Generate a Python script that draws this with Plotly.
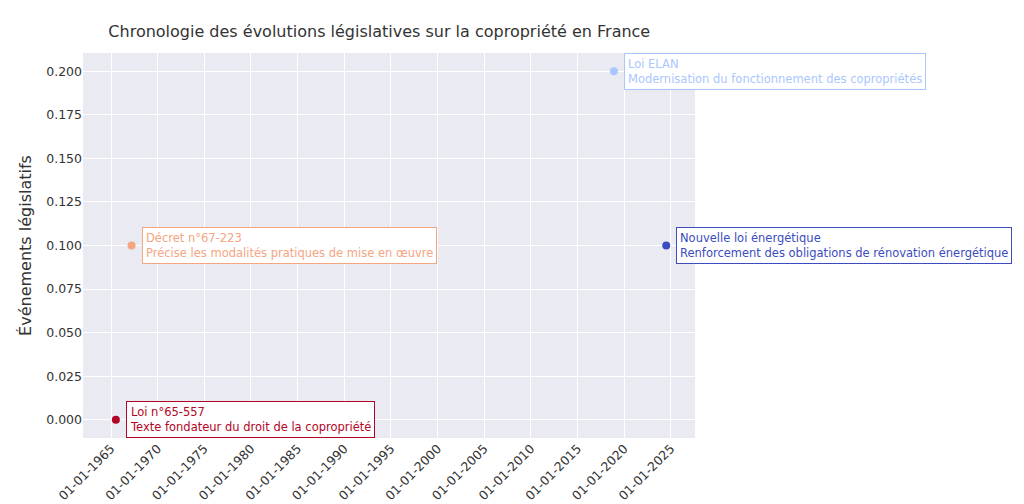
import plotly.graph_objects as go

dates = ["1965-07-10", "1967-03-17", "2018-11-23", "2024-07-01"]
values = [0.0, 0.1, 0.2, 0.1]
titles = ["Loi n°65-557", "Décret n°67-223", "Loi ELAN", "Nouvelle loi énergétique"]
descs = ["Texte fondateur du droit de la copropriété",
         "Précise les modalités pratiques de mise en œuvre",
         "Modernisation du fonctionnement des copropriétés",
         "Renforcement des obligations de rénovation énergétique"]
colors = ["#b40426", "#f4a582", "#aac7fd", "#3b4cc0"]
tick_years = list(range(1965, 2030, 5))

fig = go.Figure()
fig.add_trace(go.Scatter(x=dates, y=values, mode="markers",
                         marker=dict(color=colors, size=8), showlegend=False))
for d, v, t, s, c in zip(dates, values, titles, descs, colors):
    fig.add_annotation(x=d, y=v, text=f"{t}<br>{s}", showarrow=False,
                       xanchor="left", yanchor="middle", xshift=10, align="left",
                       font=dict(color=c, size=11.5), bgcolor="white",
                       bordercolor=c, borderwidth=1, borderpad=3)

fig.update_layout(
    width=1024, height=504, template="none",
    font=dict(family="DejaVu Sans", size=13, color="#333"),
    title=dict(text="Chronologie des évolutions législatives sur la copropriété en France",
               x=0.098, y=0.965, font=dict(size=16)),
    plot_bgcolor="#eaeaf2", paper_bgcolor="white",
    margin=dict(l=75, r=337, t=45, b=74),
    xaxis=dict(range=["1962-01-01", "2027-08-01"], tickvals=[f"{y}-01-01" for y in tick_years],
               ticktext=[f"01-01-{y}" for y in tick_years], tickangle=-45,
               tickfont=dict(size=12.5), automargin=False,
               gridcolor="white", showline=False, zeroline=False, ticks=""),
    yaxis=dict(range=[-0.0105, 0.2105], dtick=0.025, tickformat=".3f",
               tickfont=dict(size=12.5), automargin=False,
               title=dict(text="Événements législatifs", standoff=10),
               gridcolor="white", showline=False, zeroline=False, ticks=""),
)
fig.write_html("out.html")
